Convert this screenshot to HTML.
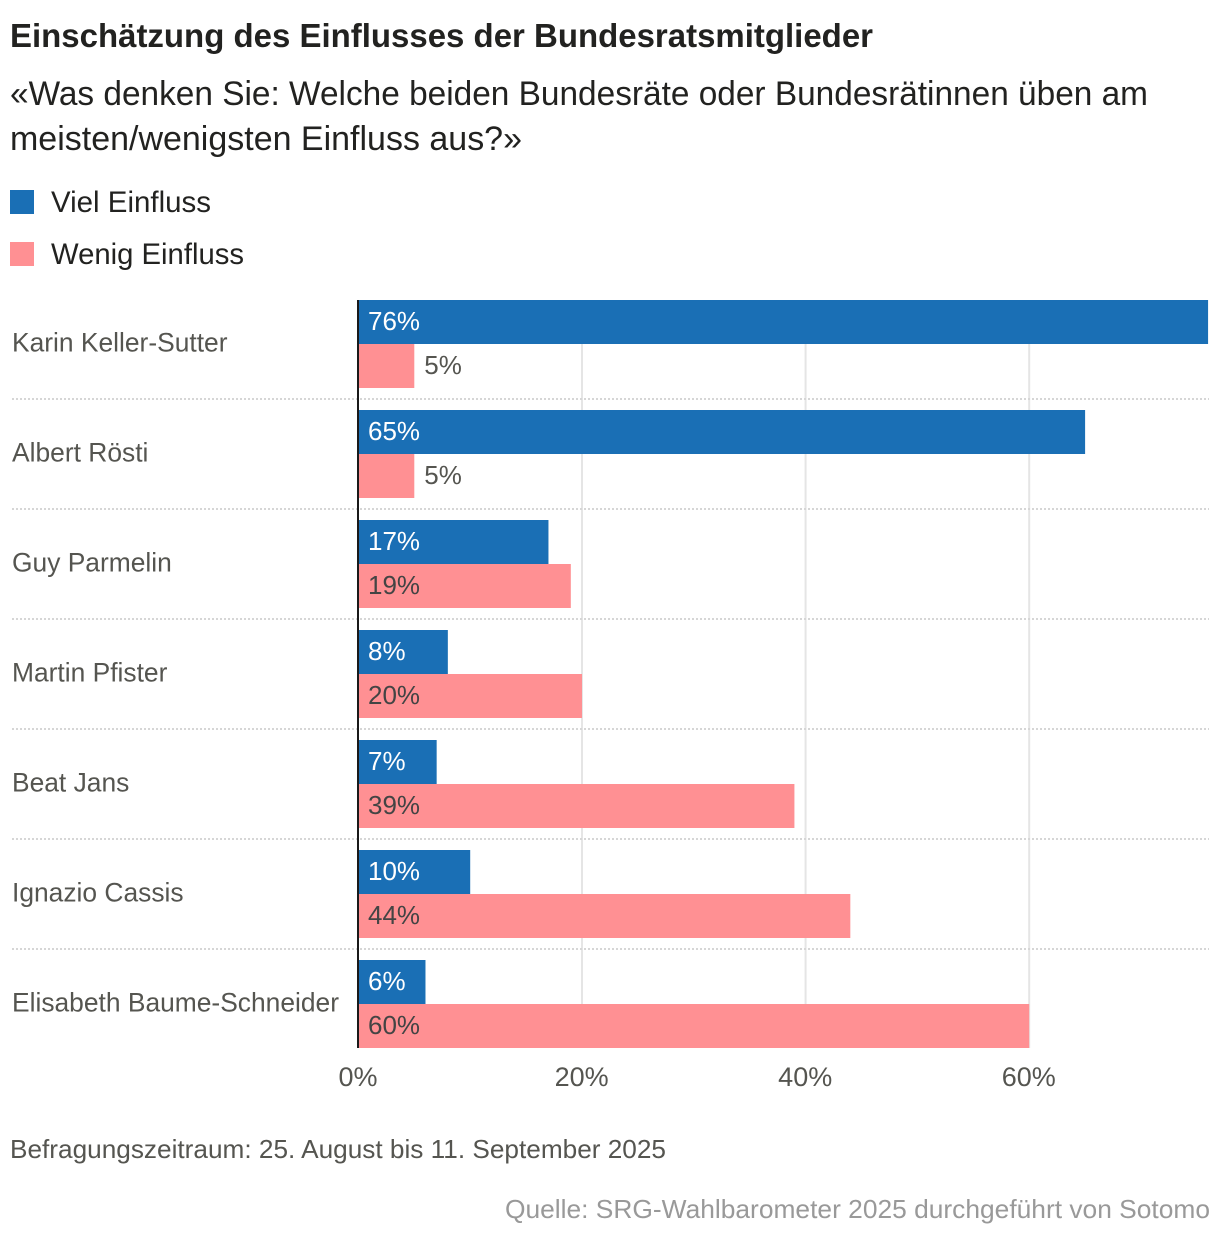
<!DOCTYPE html>
<html lang="de">
<head>
<meta charset="utf-8">
<title>Einschätzung des Einflusses der Bundesratsmitglieder</title>
<style>
html,body{margin:0;padding:0;background:#fff;}
svg{display:block;font-family:"Liberation Sans",sans-serif;}
</style>
</head>
<body>
<svg id="chart" xmlns="http://www.w3.org/2000/svg" width="1220" height="1240" viewBox="0 0 1220 1240">
  <rect x="0" y="0" width="1220" height="1240" fill="#ffffff"/>
  <text x="10" y="47" font-size="33" font-weight="700" fill="#222220" textLength="863" lengthAdjust="spacingAndGlyphs">Einschätzung des Einflusses der Bundesratsmitglieder</text>
  <text x="10" y="105" font-size="34" fill="#222220" textLength="1138" lengthAdjust="spacingAndGlyphs">«Was denken Sie: Welche beiden Bundesräte oder Bundesrätinnen üben am</text>
  <text x="10" y="150" font-size="34" fill="#222220" textLength="512" lengthAdjust="spacingAndGlyphs">meisten/wenigsten Einfluss aus?»</text>
  <rect x="10" y="190" width="24" height="24" fill="#1a6fb5"/>
  <text x="51" y="212" font-size="30" fill="#222220" textLength="160" lengthAdjust="spacingAndGlyphs">Viel Einfluss</text>
  <rect x="10" y="242" width="24" height="24" fill="#ff9093"/>
  <text x="51" y="264" font-size="30" fill="#222220" textLength="193" lengthAdjust="spacingAndGlyphs">Wenig Einfluss</text>
  <g id="plot"></g>
  <text x="10" y="1158" font-size="26" fill="#555550" textLength="656" lengthAdjust="spacingAndGlyphs">Befragungszeitraum: 25. August bis 11. September 2025</text>
  <text x="505" y="1218" font-size="26" fill="#999999" textLength="705" lengthAdjust="spacingAndGlyphs">Quelle: SRG-Wahlbarometer 2025 durchgeführt von Sotomo</text>
</svg>
<script>
const categories = ["Karin Keller-Sutter", "Albert Rösti", "Guy Parmelin", "Martin Pfister", "Beat Jans", "Ignazio Cassis", "Elisabeth Baume-Schneider"];
const vielEinfluss = [76, 65, 17, 8, 7, 10, 6];
const wenigEinfluss = [5, 5, 19, 20, 39, 44, 60];
const xTicks = [0, 20, 40, 60];

const NS = 'http://www.w3.org/2000/svg';
const plot = document.getElementById('plot');

function xScale(value) {
  return 358.4 + value * 11.18;
}
function groupTop(index) {
  return 300 + index * 110;
}
function make(tag, attrs) {
  const el = document.createElementNS(NS, tag);
  for (const key in attrs) el.setAttribute(key, attrs[key]);
  plot.appendChild(el);
  return el;
}

// Gridlines and tick labels
xTicks.forEach(function (tick) {
  if (tick !== 0) {
    const grid = make('rect', { x: xScale(tick) - 1, y: 300, width: 2, height: 748, fill: '#e5e5e5' });
    
    
  }
  const label = make('text', { x: xScale(tick) - 0.4, y: 1086, 'font-size': 27, fill: '#555550', 'text-anchor': 'middle' });
  label.textContent = tick + '%';
  
  
});

// Dotted separators between groups
categories.slice(1).forEach(function (name, i) {
  const y = groupTop(i + 1) - 11;
  const sep = make('line', { x1: 12, x2: 1209, y1: y, y2: y, stroke: '#d6d6d6', 'stroke-width': 2, 'stroke-dasharray': '2 2' });
  
  
});

function drawBar(value, top, fill, labelFill, seriesName) {
  const bar = make('rect', { x: xScale(0), y: top, width: xScale(value) - xScale(0), height: 44, fill: fill });
  
  
  const inside = value > 5;
  const label = make('text', {
    x: inside ? xScale(0) + 9.6 : xScale(value) + 10,
    y: top + 30,
    'font-size': 26,
    fill: inside ? labelFill : '#555550'
  });
  label.textContent = value + '%';
  
  
}

categories.forEach(function (name, i) {
  const top = groupTop(i);
  const catLabel = make('text', { x: 12, y: top + 51.5, 'font-size': 27, fill: '#555550' });
  catLabel.textContent = name;
  
  
  catLabel.setAttribute('textLength', (catLabel.getComputedTextLength() * 0.977).toFixed(1));
  catLabel.setAttribute('lengthAdjust', 'spacingAndGlyphs');
  drawBar(vielEinfluss[i], top, '#1a6fb5', '#ffffff', 'viel-einfluss');
  drawBar(wenigEinfluss[i], top + 44, '#ff9093', '#444444', 'wenig-einfluss');
});

// Zero axis line
const axis = make('rect', { x: 357, y: 300, width: 2, height: 748, fill: '#1a1a1a' });


</script>
</body>
</html>
